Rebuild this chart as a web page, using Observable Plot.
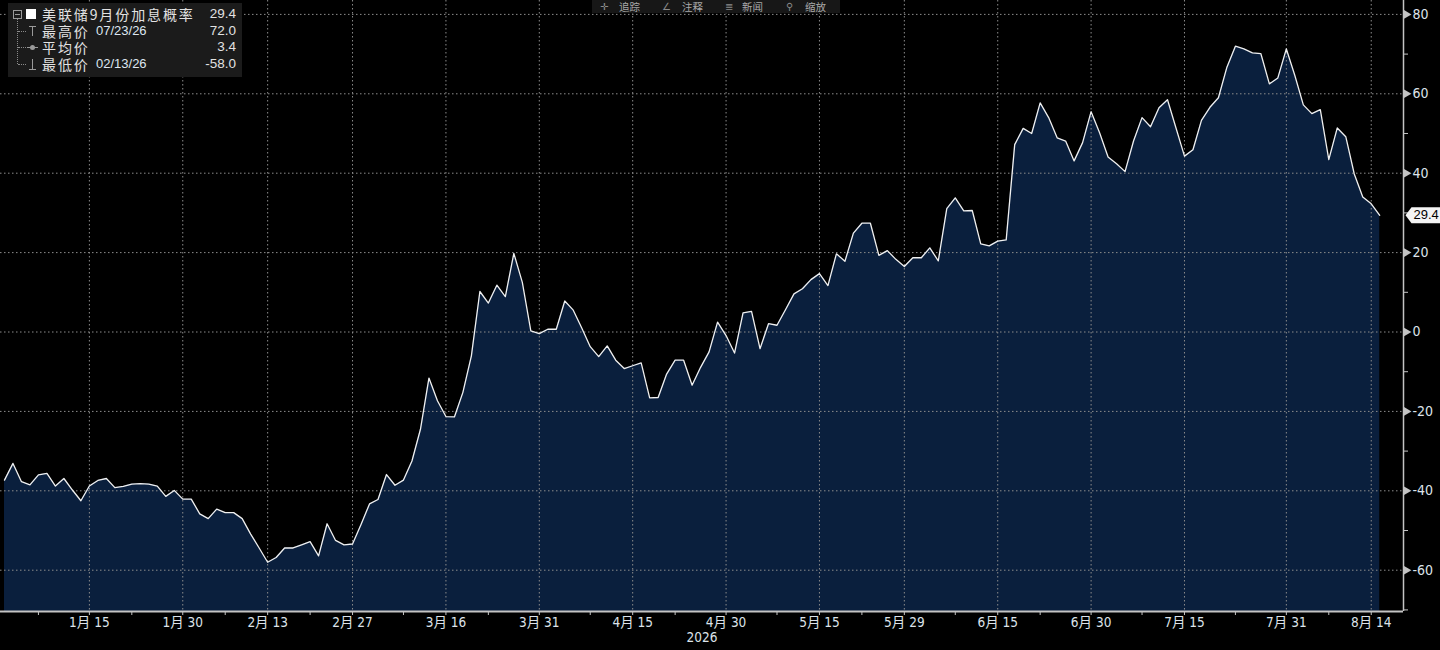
<!DOCTYPE html>
<html>
<head>
<meta charset="utf-8">
<script src="https://cdn.jsdelivr.net/npm/d3@7"></script>
<script src="https://cdn.jsdelivr.net/npm/@observablehq/plot@0.6"></script>
<style>
  html, body { margin: 0; padding: 0; background: #000; }
  #wrap { position: relative; width: 1440px; height: 650px; overflow: hidden; background: #000; }
  #legend { position: absolute; left: 8px; top: 3px; width: 234px; height: 74px; background: #1b1b1b;
            font-family: "Noto Sans CJK SC", sans-serif; color: #e2e2e2; }
  #legend .t { position: absolute; height: 16px; line-height: 16px; white-space: nowrap; }
  #legend .nm { font-size: 14px; letter-spacing: 1.9px; left: 34px; }
  #legend .dt { font-family: "Liberation Sans", "DejaVu Sans", sans-serif; font-size: 13px; left: 88px; color: #dde6f0; }
  #legend .val { font-family: "Liberation Sans", "DejaVu Sans", sans-serif; font-size: 13.5px; right: 6px; text-align: right; }
  #legend .ln { position: absolute; border-color: #8a8a8a; border-style: dotted; border-width: 0; }
  #legend .ic { position: absolute; background: #9a9a9a; }
  #toolbar { position: absolute; left: 592px; top: 0; width: 248px; height: 13px; background: #171717;
             font-family: "Noto Sans CJK SC", sans-serif; font-size: 10.5px; color: #a8a8a8; }
  #toolbar span { position: absolute; top: 1px; line-height: 12px; white-space: nowrap; }
  #toolbar span.icon { color: #8a8a8a; font-family: "DejaVu Sans", sans-serif; font-size: 10px; }
</style>
</head>
<body>
<div id="wrap"></div>
<script>
// ---------------- data ----------------
const seriesName = "美联储9月份加息概率";
const startDate = "2026-01-01";           // first trading day shown (weekdays only)
const values = [
  -37.3, -33.1, -37.7, -38.5, -36.0, -35.6, -38.8, -36.9, -39.8, -42.5,
  -38.8, -37.4, -36.9, -39.2, -38.9, -38.3, -38.2, -38.3, -38.8, -41.4,
  -39.9, -42.1, -42.1, -45.8, -47.0, -44.6, -45.5, -45.5, -47.0, -50.9,
  -54.4, -58.0, -56.8, -54.4, -54.4, -53.6, -52.8, -56.4, -48.3, -52.5,
  -53.6, -53.4, -48.5, -43.3, -42.2, -35.9, -38.6, -37.3, -32.5, -24.5,
  -11.6, -17.3, -21.3, -21.4, -15.2, -6.0, 10.2, 7.3, 11.8, 8.9,
  19.8, 12.5, 0.3, -0.4, 0.7, 0.7, 7.8, 5.5, 1.0, -3.7,
  -6.2, -3.5, -7.1, -9.2, -8.5, -7.8, -16.6, -16.5, -10.6, -7.1,
  -7.1, -13.4, -8.9, -5.0, 2.5, -0.9, -5.3, 4.8, 5.2, -4.2,
  2.1, 1.7, 5.6, 9.6, 10.9, 13.2, 14.7, 11.7, 19.7, 17.8,
  24.9, 27.4, 27.4, 19.3, 20.5, 18.3, 16.5, 18.7, 18.7, 21.2,
  17.9, 31.1, 33.8, 30.5, 30.6, 22.2, 21.7, 22.9, 23.2, 47.2,
  51.3, 50.0, 57.7, 54.0, 48.9, 48.1, 43.1, 47.7, 55.5, 50.2,
  44.1, 42.4, 40.4, 48.1, 54.0, 51.7, 56.5, 58.5, 51.4, 44.3,
  45.9, 53.3, 56.6, 59.0, 66.7, 72.0, 71.3, 70.3, 70.1, 62.5,
  64.0, 71.3, 64.6, 57.2, 55.0, 56.0, 43.4, 51.4, 49.2, 39.8,
  34.0, 32.3, 29.4
];
const majorTickDates = ["2026-01-15","2026-01-30","2026-02-13","2026-02-27","2026-03-16","2026-03-31","2026-04-15",
  "2026-04-30","2026-05-15","2026-05-29","2026-06-15","2026-06-30","2026-07-15","2026-07-31","2026-08-14"];
const minorTickDates = ["2026-01-07","2026-01-22","2026-02-06","2026-02-20","2026-03-09","2026-03-23","2026-04-08",
  "2026-04-22","2026-05-08","2026-05-22","2026-06-08","2026-06-22","2026-07-08","2026-07-23","2026-08-07"];
const yMajor = [-60, -40, -20, 0, 20, 40, 60, 80];
const yMinor = [-70, -50, -30, -10, 10, 30, 50, 70];
const yearLabel = "2026";
const statLabels = ["最高价", "平均价", "最低价"];
const statDates = ["07/23/26", "", "02/13/26"];
const statValues = ["72.0", "3.4", "-58.0"];
const toolbarItems = ["追踪", "注释", "新闻", "缩放"];

// ---------------- helpers ----------------
const parse = s => new Date(s + "T00:00:00Z");
function tradingIndex(s) {
  const d0 = parse(startDate), d1 = parse(s);
  let n = 0;
  for (let d = new Date(d0); d < d1; d.setUTCDate(d.getUTCDate() + 1)) {
    const w = d.getUTCDay();
    if (w !== 0 && w !== 6) n++;
  }
  return n;
}
const rows = values.map((v, i) => ({i, v}));
const majorIdx = majorTickDates.map(tradingIndex);
const minorIdx = minorTickDates.map(tradingIndex);
const majorLabel = new Map(majorTickDates.map((s, k) => {
  const d = parse(s);
  return [majorIdx[k], `${d.getUTCMonth() + 1}月 ${d.getUTCDate()}`];
}));

const xMin = -0.47, xMax = 164.8, yMin = -70.4, yMax = 83.5;
const lastVal = values[values.length - 1];
const FONT = '"Liberation Sans Narrow", "DejaVu Sans Condensed", "Noto Sans CJK SC", sans-serif';
const gridStyle = {stroke: "#8c8c8c", strokeOpacity: 1, strokeWidth: 1, strokeDasharray: "1.5,2.5"};

const flagSymbol = {
  draw(ctx) {
    ctx.moveTo(0, 0);
    ctx.lineTo(6, -8);
    ctx.lineTo(40, -8);
    ctx.lineTo(40, 8);
    ctx.lineTo(6, 8);
    ctx.closePath();
  }
};

const chart = Plot.plot({
  width: 1440, height: 650,
  marginTop: 0, marginBottom: 39, marginLeft: 0, marginRight: 37,
  style: {background: "#000", color: "#dcdcdc", fontFamily: FONT, fontSize: "13px", overflow: "visible"},
  x: {type: "linear", domain: [xMin, xMax]},
  y: {domain: [yMin, yMax]},
  marks: [
    Plot.areaY(rows, {x: "i", y1: yMin, y2: "v", fill: "#0a1f3d"}),
    Plot.gridY(yMajor, gridStyle),
    Plot.gridX(majorIdx, gridStyle),
    Plot.lineY(rows, {x: "i", y: "v", stroke: "#f0f0f0", strokeWidth: 1.3}),
    Plot.ruleY([yMin], {stroke: "#c4c4c4", strokeWidth: 2}),
    Plot.ruleX([xMax], {stroke: "#c4c4c4", strokeWidth: 1.5}),
    Plot.axisX({ticks: majorIdx, tickFormat: d => majorLabel.get(d), tickSize: 4, tickPadding: 2,
                label: null, stroke: "#c4c4c4", fill: "#dde3ea", fontSize: 13.5}),
    Plot.axisX({ticks: minorIdx, tickSize: 4, fill: "none", label: null, stroke: "#c4c4c4"}),
    Plot.text([yearLabel], {x: (xMin + xMax) / 2, frameAnchor: "bottom", dy: 30, text: d => d, fill: "#dde3ea", fontSize: 13.5}),
    Plot.axisY({anchor: "right", ticks: yMajor, tickSize: 0, tickPadding: 9, tickFormat: d => String(d),
                label: null, fill: "#dde3ea", fontSize: 14}),
    Plot.axisY({anchor: "right", ticks: yMinor, tickSize: 4, fill: "none", label: null, stroke: "#c4c4c4"}),
    Plot.dot(yMajor, {x: xMax, y: d => d, symbol: "triangle", rotate: 90, r: 3.2, fill: "#c4c4c4", dx: 3}),
    Plot.dot([lastVal], {x: xMax, y: d => d, symbol: flagSymbol, r: 1, fill: "#f4f4f4", dx: 2}),
    Plot.text([lastVal], {x: xMax, y: d => d, text: d => d.toFixed(1), dx: 10, textAnchor: "start",
                          fill: "#000", fontSize: 13, fontFamily: '"Liberation Sans", sans-serif'})
  ]
});

const wrap = document.getElementById("wrap");
wrap.appendChild(chart);

// ---------------- legend (overlay, top-left) ----------------
const lg = document.createElement("div");
lg.id = "legend";
const rowC = [11, 28, 44, 61]; // row centres relative to legend box
let html = "";
// tree lines
html += `<div class="ln" style="left:9px;top:16px;height:${rowC[3] - 16}px;border-left-width:1px;"></div>`;
for (let k = 1; k <= 3; k++) html += `<div class="ln" style="left:10px;top:${rowC[k]}px;width:8px;border-top-width:1px;"></div>`;
// collapse box
html += `<div style="position:absolute;left:5px;top:7px;width:7px;height:7px;border:1px solid #9a9a9a;"></div>`;
html += `<div class="ic" style="left:7px;top:11px;width:5px;height:1px;"></div>`;
// white series square
html += `<div style="position:absolute;left:18px;top:6px;width:10px;height:10px;background:#fff;"></div>`;
// icons: high (T), average (-o-), low (inverted T)
html += `<div class="ic" style="left:21px;top:${rowC[1] - 5}px;width:7px;height:1px;"></div>`;
html += `<div class="ic" style="left:24px;top:${rowC[1] - 5}px;width:1px;height:10px;"></div>`;
html += `<div class="ic" style="left:19px;top:${rowC[2]}px;width:11px;height:1px;"></div>`;
html += `<div class="ic" style="left:22px;top:${rowC[2] - 2}px;width:5px;height:5px;border-radius:3px;"></div>`;
html += `<div class="ic" style="left:24px;top:${rowC[3] - 5}px;width:1px;height:10px;"></div>`;
html += `<div class="ic" style="left:21px;top:${rowC[3] + 5}px;width:7px;height:1px;"></div>`;
// texts
html += `<div class="t nm" style="top:${rowC[0] - 8}px;">${seriesName}</div>`;
html += `<div class="t val" style="top:${rowC[0] - 8}px;">${lastVal.toFixed(1)}</div>`;
for (let k = 0; k < 3; k++) {
  const c = rowC[k + 1];
  html += `<div class="t nm" style="top:${c - 8}px;">${statLabels[k]}</div>`;
  if (statDates[k]) html += `<div class="t dt" style="top:${c - 8}px;">${statDates[k]}</div>`;
  html += `<div class="t val" style="top:${c - 8}px;">${statValues[k]}</div>`;
}
lg.innerHTML = html;
wrap.appendChild(lg);

// ---------------- toolbar (top centre) ----------------
const tb = document.createElement("div");
tb.id = "toolbar";
const icons = ["✛", "∠", "≣", "⚲"];
const iconLeft = [8, 70, 133, 194];
const textLeft = [27, 90, 150, 213];
tb.innerHTML = toolbarItems.map((s, k) =>
  `<span class="icon" style="left:${iconLeft[k]}px;">${icons[k]}</span><span style="left:${textLeft[k]}px;">${s}</span>`).join("");
wrap.appendChild(tb);
</script>
</body>
</html>
